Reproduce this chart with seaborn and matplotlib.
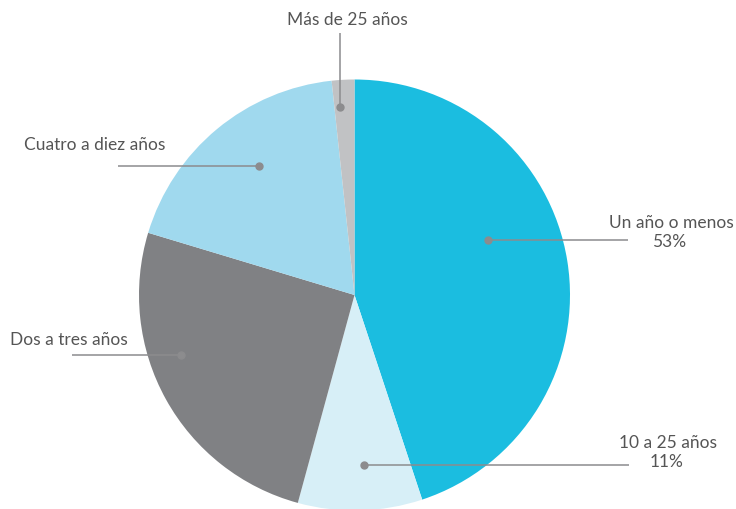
import matplotlib
matplotlib.use("Agg")
import matplotlib.pyplot as plt
import seaborn as sns

# Share of respondents by length of time (multiple answers allowed; pie shows relative size)
categories = ["Un año o menos", "10 a 25 años", "Dos a tres años", "Cuatro a diez años", "Más de 25 años"]
values = [53, 11, 30, 22, 2]
value_labels = ["53%", "11%", None, None, None]
colors = ["#1bbde0", "#d7eff7", "#808184", "#a0d9ee", "#c1c2c4"]

sns.set_theme(style="white")
plt.rcParams["font.family"] = ["Lato", "DejaVu Sans"]

W, H = 736, 510
fig = plt.figure(figsize=(W / 100, H / 100), dpi=100)
ax = fig.add_axes([0, 0, 1, 1])

cx, cy, r = 354.5, H - 296, 215.5
ax.pie(values, colors=sns.color_palette(colors), startangle=90, counterclock=False,
       center=(cx, cy), radius=r, frame=True,
       wedgeprops=dict(linewidth=0))
ax.set_xlim(0, W)
ax.set_ylim(0, H)
ax.axis("off")

line_c = "#8c8c8e"
text_c = "#555555"
fs = 12.5
fw = "normal"

def y(v):
    return H - v

def leader(p0, p1):
    ax.plot([p0[0], p1[0]], [y(p0[1]), y(p1[1])], color=line_c, lw=1.1, zorder=3,
            solid_capstyle="butt")
    ax.plot([p0[0]], [y(p0[1])], "o", color=line_c, ms=5, zorder=4)

# Un año o menos
leader((488, 241), (628, 241))
ax.text(671, y(228), categories[0], ha="center", va="baseline", fontsize=fs,
        fontweight=fw, color=text_c)
ax.text(669, y(247), value_labels[0], ha="center", va="baseline", fontsize=fs,
        fontweight=fw, color=text_c)

# 10 a 25 años
leader((364, 466), (629, 466))
ax.text(668, y(448), categories[1], ha="center", va="baseline", fontsize=fs,
        fontweight=fw, color=text_c)
ax.text(667, y(467), value_labels[1], ha="center", va="baseline", fontsize=fs,
        fontweight=fw, color=text_c)

# Dos a tres años
leader((181, 356), (72, 356))
ax.text(10, y(345), categories[2], ha="left", va="baseline", fontsize=fs,
        fontweight=fw, color=text_c)

# Cuatro a diez años
leader((259, 167), (118, 167))
ax.text(24, y(150), categories[3], ha="left", va="baseline", fontsize=fs,
        fontweight=fw, color=text_c)

# Más de 25 años
leader((340, 108), (340, 34))
ax.text(347, y(25), categories[4], ha="center", va="baseline", fontsize=fs,
        fontweight=fw, color=text_c)

fig.savefig("out.png", dpi=100, facecolor="white")
